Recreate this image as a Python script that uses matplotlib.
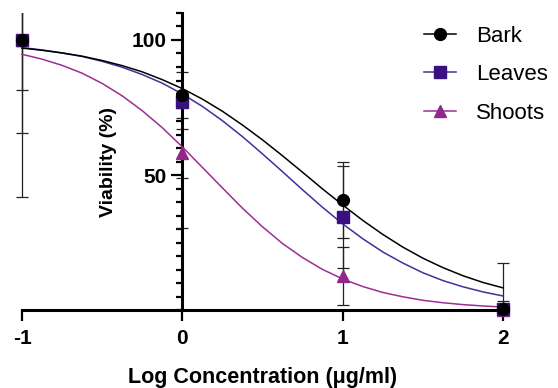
import matplotlib
matplotlib.use("Agg")
import matplotlib.pyplot as plt
from matplotlib.ticker import MultipleLocator, FixedLocator

plt.rcParams['font.family'] = ['Liberation Sans', 'DejaVu Sans']

# measured points (log concentration, mean viability, SD)
log_conc = [-1, 0, 1, 2]
bark = [100, 79.6, 40.7, 0.5]
bark_sd = [58, 8.5, 14, 17]
leaves = [100, 77.2, 34.4, 0.2]
leaves_sd = [34.4, 47, 19, 3]
shoots = [100, 58.0, 12.6, 0.0]
shoots_sd = [18.5, 9, 10.7, 1]

# fitted curves
fit_x = [-1, -0.875, -0.75, -0.625, -0.5, -0.375, -0.25, -0.125, 0,
         0.125, 0.25, 0.375, 0.5, 0.625, 0.75, 0.875, 1,
         1.125, 1.25, 1.375, 1.5, 1.625, 1.75, 1.875, 2]
bark_fit = [97.0, 96.2, 95.2, 94.0, 92.4, 90.5, 88.2, 85.3, 82.0,
            78.1, 73.6, 68.5, 63.0, 57.1, 51.0, 44.8, 38.9,
            33.2, 28.0, 23.3, 19.2, 15.7, 12.7, 10.2, 8.2]
leaves_fit = [97.2, 96.3, 95.2, 93.9, 92.1, 89.9, 87.2, 84.0, 80.0,
              75.4, 70.1, 64.2, 57.8, 51.2, 44.5, 38.0, 31.9,
              26.4, 21.5, 17.4, 13.8, 10.9, 8.6, 6.7, 5.2]
shoots_fit = [94.7, 92.9, 90.6, 87.7, 83.9, 79.3, 73.8, 67.5, 60.4,
              52.8, 45.2, 37.7, 30.8, 24.6, 19.4, 15.0, 11.5,
              8.7, 6.5, 4.9, 3.6, 2.7, 2.0, 1.5, 1.1]

series = [
    ("Bark", bark, bark_sd, bark_fit, "black", "black", "o"),
    ("Leaves", leaves, leaves_sd, leaves_fit, "#4a2a9c", "#3a0f80", "s"),
    ("Shoots", shoots, shoots_sd, shoots_fit, "#9c2e94", "#93288c", "^"),
]

fig = plt.figure(figsize=(5.58, 3.88), dpi=100)
ax = fig.add_axes([0.0108, 0.201, 0.9194, 0.7655])

handles = []
for name, y, sd, fit, lc, mc, mk in reversed(series):
    ax.errorbar(log_conc, y, yerr=sd, fmt="none", ecolor="#222222",
                elinewidth=0.9, capsize=4.5, capthick=0.9, zorder=2)
for name, y, sd, fit, lc, mc, mk in reversed(series):
    ax.plot(fit_x, fit, color=lc, lw=1.1, zorder=3)
for name, y, sd, fit, lc, mc, mk in reversed(series):
    ax.plot(log_conc, y, linestyle="none", marker=mk, ms=8.5, color=mc,
            zorder=4, clip_on=False)

for name, y, sd, fit, lc, mc, mk in series:
    h, = ax.plot([], [], color=lc, lw=1.1, marker=mk, ms=8.5,
                 markerfacecolor=mc, markeredgecolor=mc, label=name)
    handles.append(h)

ax.set_xlim(-1.1, 2.1)
ax.set_ylim(0, 110)

for s in ["top", "right"]:
    ax.spines[s].set_visible(False)
ax.spines["left"].set_position(("data", 0))
ax.spines["bottom"].set_bounds(-1, 2.03)
ax.spines["left"].set_linewidth(2.2)
ax.spines["bottom"].set_linewidth(2.2)

ax.xaxis.set_major_locator(FixedLocator([-1, 0, 1, 2]))
ax.set_xticklabels(["-1", "0", "1", "2"])
ax.yaxis.set_major_locator(FixedLocator([50, 100]))
ax.yaxis.set_minor_locator(MultipleLocator(5))
ax.tick_params(axis="both", which="major", length=8, width=1.6,
               labelsize=15, pad=3)
ax.tick_params(axis="y", which="minor", length=4.5, width=1.6)
ax.tick_params(axis="x", which="major", pad=6)
for lab in ax.get_xticklabels() + ax.get_yticklabels():
    lab.set_fontweight("bold")

ax.set_xlabel("Log Concentration (\u03bcg/ml)", fontsize=15.5,
              fontweight="bold", labelpad=13)
ax.set_ylabel("Viability (%)", fontsize=14, fontweight="bold")
ax.yaxis.set_label_coords(0.2165, 0.5)

fig.legend(handles=handles, loc="upper left", bbox_to_anchor=(0.74, 0.962),
           frameon=False, fontsize=16, handlelength=1.45,
           handletextpad=0.9, labelspacing=0.78, borderpad=0)

fig.savefig("out.png", dpi=100)
